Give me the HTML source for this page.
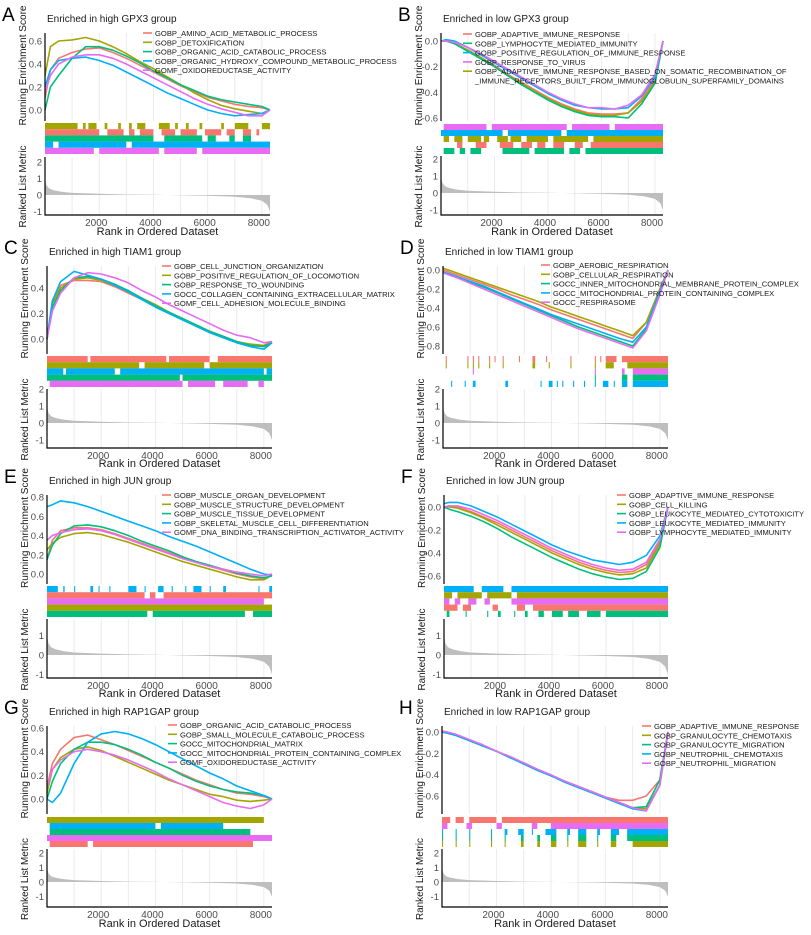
<!DOCTYPE html>
<html><head><meta charset="utf-8">
<style>
html,body{margin:0;padding:0;background:#fff;}
svg{display:block;font-family:"Liberation Sans",Arial,sans-serif;}
</style></head>
<body>
<svg id="fig" xmlns="http://www.w3.org/2000/svg" width="811" height="935" viewBox="0 0 811 935"></svg>
<script>
const ranks = [0,200,500,1000,1500,2000,2500,3000,3500,4000,4500,5000,5500,6000,6500,7000,7500,8000,8300];
const metricRanks = [0,50,150,300,600,1000,2000,3000,4000,5000,6000,7000,7600,8000,8200,8300];
const metricVals = [1.0,0.6,0.4,0.3,0.2,0.13,0.07,0.03,0.01,-0.02,-0.05,-0.1,-0.2,-0.35,-0.6,-1.0];
const xTickVals = [2000,4000,6000,8000];
const colors = ["#F8766D","#A3A500","#00BF7D","#00B0F6","#E76BF3"];

const namesA = ["GOBP_AMINO_ACID_METABOLIC_PROCESS","GOBP_DETOXIFICATION","GOBP_ORGANIC_ACID_CATABOLIC_PROCESS","GOBP_ORGANIC_HYDROXY_COMPOUND_METABOLIC_PROCESS","GOMF_OXIDOREDUCTASE_ACTIVITY"];
const esA = [
 [0.1,0.35,0.45,0.5,0.53,0.54,0.5,0.45,0.39,0.33,0.27,0.21,0.16,0.11,0.08,0.05,0.03,0.02,0],
 [0.3,0.55,0.6,0.61,0.63,0.6,0.55,0.49,0.42,0.36,0.29,0.22,0.15,0.09,0.04,0.01,-0.01,-0.03,0],
 [0.0,0.2,0.3,0.45,0.55,0.55,0.52,0.47,0.41,0.34,0.28,0.22,0.17,0.12,0.09,0.07,0.05,0.03,0],
 [0.2,0.35,0.43,0.45,0.46,0.43,0.39,0.33,0.27,0.21,0.15,0.1,0.05,0.0,-0.03,-0.05,-0.04,-0.03,0],
 [0.15,0.3,0.4,0.46,0.48,0.48,0.45,0.4,0.34,0.28,0.22,0.16,0.1,0.05,0.01,-0.02,-0.05,-0.05,0]];
const rugOrderA = [1,0,2,3,4];
const rugA = [
 [[0,1.2],[1.4,1.5],[1.6,1.9],[2.2,2.3],[2.7,2.8],[3.1,3.2],[3.4,3.7],[4.2,4.6],[4.8,4.9],[5.2,5.3],[5.7,5.8],[6.5,6.6],[7.0,7.5],[8.0,8.3]],
 [[0,2.0],[2.3,2.9],[3.1,3.3],[3.5,4.0],[4.3,4.8],[5.0,5.6],[5.9,6.5],[6.7,7.0],[7.3,7.6],[7.8,7.9]],
 [[0,4.0],[4.4,5.8],[6.0,6.3],[6.8,7.0],[7.3,7.6]],
 [[0,0.3],[0.5,3.0],[3.2,8.3]],
 [[0,1.8],[2.0,4.2],[4.4,5.6],[5.8,8.3]]];

const namesB = ["GOBP_ADAPTIVE_IMMUNE_RESPONSE","GOBP_LYMPHOCYTE_MEDIATED_IMMUNITY","GOBP_POSITIVE_REGULATION_OF_IMMUNE_RESPONSE","GOBP_RESPONSE_TO_VIRUS","GOBP_ADAPTIVE_IMMUNE_RESPONSE_BASED_ON_SOMATIC_RECOMBINATION_OF|_IMMUNE_RECEPTORS_BUILT_FROM_IMMUNOGLOBULIN_SUPERFAMILY_DOMAINS"];
const legendColorB = [0,2,3,4,1];
const esB = [
 [0,0,-0.02,-0.07,-0.13,-0.19,-0.26,-0.32,-0.38,-0.44,-0.49,-0.53,-0.56,-0.57,-0.57,-0.56,-0.45,-0.3,0],
 [0,0,-0.02,-0.07,-0.13,-0.2,-0.27,-0.33,-0.39,-0.45,-0.5,-0.54,-0.57,-0.58,-0.58,-0.56,-0.47,-0.32,0],
 [0,0,-0.02,-0.08,-0.14,-0.2,-0.27,-0.34,-0.4,-0.46,-0.51,-0.55,-0.58,-0.59,-0.59,-0.6,-0.49,-0.33,0],
 [0,0.01,0,-0.05,-0.11,-0.17,-0.23,-0.29,-0.35,-0.41,-0.46,-0.5,-0.52,-0.53,-0.53,-0.52,-0.43,-0.28,0],
 [0,0,-0.01,-0.05,-0.1,-0.16,-0.22,-0.28,-0.34,-0.4,-0.45,-0.49,-0.52,-0.52,-0.53,-0.5,-0.42,-0.26,0]];
const rugOrderB = [4,3,1,0,2];
const rugB = [
 [[0.1,1.7],[1.9,4.7],[4.9,6.3],[6.5,8.3]],
 [[0,2.3],[2.5,4.5],[4.7,8.3]],
 [[0.1,0.3],[0.5,0.8],[1.0,1.5],[1.6,1.8],[2.1,2.5],[2.6,3.0],[3.2,4.0],[4.2,5.5],[5.7,8.3]],
 [[0.6,0.8],[1.3,1.7],[2.2,2.7],[3.0,3.4],[3.6,3.9],[4.2,4.6],[5.0,5.3],[5.6,8.3]],
 [[0.1,0.5],[0.7,0.9],[1.1,1.5],[2.3,3.3],[3.5,4.6],[4.8,5.2],[5.4,8.3]]];

const namesC = ["GOBP_CELL_JUNCTION_ORGANIZATION","GOBP_POSITIVE_REGULATION_OF_LOCOMOTION","GOBP_RESPONSE_TO_WOUNDING","GOCC_COLLAGEN_CONTAINING_EXTRACELLULAR_MATRIX","GOMF_CELL_ADHESION_MOLECULE_BINDING"];
const esC = [
 [0,0.3,0.42,0.46,0.46,0.45,0.41,0.36,0.31,0.26,0.21,0.16,0.11,0.06,0.02,-0.02,-0.05,-0.06,-0.02],
 [0,0.28,0.4,0.47,0.48,0.46,0.42,0.37,0.32,0.27,0.21,0.16,0.11,0.06,0.02,-0.02,-0.04,-0.05,-0.02],
 [0,0.25,0.38,0.48,0.49,0.47,0.43,0.38,0.32,0.26,0.21,0.16,0.11,0.06,0.02,-0.02,-0.05,-0.06,-0.03],
 [0,0.3,0.45,0.53,0.5,0.47,0.42,0.37,0.31,0.25,0.2,0.15,0.1,0.05,0.01,-0.03,-0.06,-0.08,-0.03],
 [0,0.22,0.36,0.48,0.52,0.51,0.48,0.44,0.38,0.33,0.27,0.22,0.17,0.12,0.07,0.03,0.01,-0.03,-0.02]];
const rugOrderC = [0,1,3,2,4];
const rugC = [
 [[0,1.5],[1.6,4.4],[4.5,6.0],[6.3,8.3]],
 [[0,3.4],[3.6,5.8],[6.0,8.3]],
 [[0,0.6],[0.7,2.5],[2.7,8.0],[8.1,8.3]],
 [[0,4.9],[5.0,8.3]],
 [[0.1,5.0],[5.2,6.2],[6.5,7.4],[7.8,8.0]]];

const namesD = ["GOBP_AEROBIC_RESPIRATION","GOBP_CELLULAR_RESPIRATION","GOCC_INNER_MITOCHONDRIAL_MEMBRANE_PROTEIN_COMPLEX","GOCC_MITOCHONDRIAL_PROTEIN_CONTAINING_COMPLEX","GOCC_RESPIRASOME"];
const esD = [
 [0,-0.02,-0.05,-0.1,-0.15,-0.2,-0.26,-0.31,-0.36,-0.42,-0.47,-0.52,-0.57,-0.62,-0.67,-0.72,-0.55,-0.2,0],
 [0.02,0,-0.03,-0.08,-0.13,-0.18,-0.23,-0.28,-0.33,-0.39,-0.44,-0.49,-0.54,-0.59,-0.64,-0.69,-0.55,-0.2,0],
 [-0.02,-0.04,-0.07,-0.13,-0.18,-0.24,-0.3,-0.36,-0.42,-0.48,-0.54,-0.6,-0.65,-0.7,-0.75,-0.8,-0.62,-0.25,0],
 [-0.02,-0.04,-0.07,-0.12,-0.17,-0.23,-0.29,-0.35,-0.41,-0.47,-0.52,-0.57,-0.62,-0.67,-0.72,-0.76,-0.6,-0.22,0],
 [-0.03,-0.05,-0.08,-0.14,-0.2,-0.26,-0.32,-0.38,-0.44,-0.5,-0.56,-0.62,-0.67,-0.72,-0.77,-0.82,-0.64,-0.26,0]];
const rugOrderD = [0,1,4,2,3];
const rugD = [
 [[0.1,0.14],[0.9,0.94],[1.1,1.14],[1.3,1.34],[1.7,1.74],[1.9,1.94],[2.2,2.24],[2.8,2.84],[3.3,3.4],[3.8,3.84],[4.7,4.74],[5.6,5.64],[5.8,5.84],[6.0,6.4],[6.6,8.3]],
 [[0.1,0.14],[0.9,0.94],[1.1,1.14],[1.3,1.34],[1.7,1.74],[2.2,2.24],[3.3,3.4],[3.9,3.94],[4.7,4.74],[5.6,5.64],[6.0,6.3],[6.8,8.3]],
 [[1.1,1.14],[5.6,5.64],[6.6,6.7],[7.0,8.3]],
 [[5.6,5.64],[6.6,6.8],[7.0,8.3]],
 [[0.3,0.34],[0.8,0.84],[1.1,1.2],[2.3,2.4],[3.6,3.64],[3.9,4.04],[4.2,4.24],[4.4,4.44],[4.8,4.84],[5.2,5.24],[5.6,5.64],[5.9,6.1],[6.3,6.34],[6.6,6.8],[7.0,8.3]]];

const namesE = ["GOBP_MUSCLE_ORGAN_DEVELOPMENT","GOBP_MUSCLE_STRUCTURE_DEVELOPMENT","GOBP_MUSCLE_TISSUE_DEVELOPMENT","GOBP_SKELETAL_MUSCLE_CELL_DIFFERENTIATION","GOMF_DNA_BINDING_TRANSCRIPTION_ACTIVATOR_ACTIVITY"];
const esE = [
 [0.15,0.35,0.45,0.48,0.48,0.46,0.42,0.37,0.32,0.27,0.22,0.17,0.12,0.08,0.04,0.0,-0.03,-0.05,-0.01],
 [0.25,0.32,0.38,0.42,0.43,0.41,0.37,0.33,0.28,0.23,0.18,0.13,0.09,0.05,0.01,-0.03,-0.06,-0.06,-0.01],
 [0.15,0.3,0.42,0.5,0.51,0.49,0.45,0.4,0.34,0.29,0.24,0.18,0.13,0.09,0.05,0.01,-0.02,-0.04,-0.02],
 [0.7,0.72,0.76,0.74,0.7,0.65,0.6,0.55,0.5,0.45,0.39,0.34,0.29,0.23,0.17,0.11,0.05,0.0,-0.01],
 [0.35,0.4,0.43,0.46,0.47,0.45,0.41,0.36,0.31,0.26,0.21,0.16,0.12,0.08,0.05,0.02,0.0,-0.02,0.0]];
const rugOrderE = [3,0,4,1,2];
const rugE = [
 [[0,0.4],[0.6,0.65],[1.0,1.04],[1.6,1.7],[1.9,1.94],[2.3,2.34],[3.0,3.3],[3.6,3.64],[4.1,4.3],[4.6,4.64],[5.1,5.14],[5.4,5.7],[6.0,6.04],[6.5,6.6],[7.8,7.84],[8.2,8.3]],
 [[0,3.6],[3.8,4.0],[4.3,8.3]],
 [[0,8.0]],
 [[0,8.3]],
 [[0,3.7],[3.9,7.3],[7.6,8.3]]];

const namesF = ["GOBP_ADAPTIVE_IMMUNE_RESPONSE","GOBP_CELL_KILLING","GOBP_LEUKOCYTE_MEDIATED_CYTOTOXICITY","GOBP_LEUKOCYTE_MEDIATED_IMMUNITY","GOBP_LYMPHOCYTE_MEDIATED_IMMUNITY"];
const esF = [
 [0,0.01,0,-0.04,-0.09,-0.14,-0.2,-0.26,-0.32,-0.38,-0.43,-0.48,-0.52,-0.55,-0.57,-0.56,-0.5,-0.3,0],
 [0,0,-0.01,-0.05,-0.1,-0.16,-0.22,-0.28,-0.34,-0.4,-0.45,-0.5,-0.54,-0.57,-0.59,-0.58,-0.53,-0.32,0],
 [0,-0.02,-0.04,-0.08,-0.13,-0.19,-0.26,-0.32,-0.38,-0.44,-0.49,-0.54,-0.58,-0.61,-0.63,-0.62,-0.56,-0.35,0],
 [0.03,0.04,0.04,0.01,-0.04,-0.09,-0.15,-0.21,-0.27,-0.33,-0.38,-0.42,-0.46,-0.48,-0.5,-0.48,-0.42,-0.25,0],
 [0,0.01,0.01,-0.02,-0.07,-0.12,-0.18,-0.24,-0.3,-0.36,-0.41,-0.46,-0.5,-0.53,-0.55,-0.54,-0.48,-0.28,0]];
const rugOrderF = [3,1,4,0,2];
const rugF = [
 [[0,1.1],[1.4,2.2],[2.5,8.3]],
 [[0,0.3],[0.5,1.4],[1.6,2.5],[2.7,8.3]],
 [[0,0.2],[0.4,0.6],[0.9,1.2],[1.5,1.7],[2.5,8.3]],
 [[0,0.5],[0.7,1.0],[1.8,2.0],[2.7,3.0],[3.3,8.3]],
 [[0.1,0.2],[0.8,0.84],[1.6,1.64],[2.0,2.1],[2.6,2.64],[3.0,3.1],[3.5,3.7],[4.0,4.4],[4.6,5.0],[5.3,5.8],[6.0,8.3]]];

const namesG = ["GOBP_ORGANIC_ACID_CATABOLIC_PROCESS","GOBP_SMALL_MOLECULE_CATABOLIC_PROCESS","GOCC_MITOCHONDRIAL_MATRIX","GOCC_MITOCHONDRIAL_PROTEIN_CONTAINING_COMPLEX","GOMF_OXIDOREDUCTASE_ACTIVITY"];
const esG = [
 [0.1,0.3,0.42,0.52,0.54,0.5,0.46,0.41,0.36,0.31,0.26,0.21,0.16,0.12,0.08,0.05,0.04,0.02,0],
 [0.05,0.25,0.35,0.42,0.44,0.41,0.36,0.31,0.26,0.21,0.16,0.12,0.08,0.04,0.02,-0.01,-0.02,-0.01,0],
 [0,0.15,0.3,0.42,0.48,0.48,0.46,0.42,0.37,0.31,0.26,0.2,0.15,0.11,0.08,0.06,0.05,0.03,0],
 [0,-0.03,0.05,0.3,0.48,0.55,0.57,0.55,0.51,0.46,0.4,0.34,0.28,0.22,0.17,0.11,0.07,0.03,0],
 [0.1,0.25,0.33,0.4,0.42,0.4,0.37,0.33,0.28,0.23,0.17,0.12,0.07,0.02,-0.03,-0.06,-0.08,-0.05,0]];
const rugOrderG = [1,3,2,4,0];
const rugG = [
 [[0,8.0]],
 [[0.1,4.0],[4.2,6.5]],
 [[0.1,7.5]],
 [[0,8.3]],
 [[0.1,1.5],[1.7,7.6]]];

const namesH = ["GOBP_ADAPTIVE_IMMUNE_RESPONSE","GOBP_GRANULOCYTE_CHEMOTAXIS","GOBP_GRANULOCYTE_MIGRATION","GOBP_NEUTROPHIL_CHEMOTAXIS","GOBP_NEUTROPHIL_MIGRATION"];
const esH = [
 [0,-0.01,-0.03,-0.08,-0.13,-0.18,-0.24,-0.29,-0.35,-0.41,-0.46,-0.51,-0.56,-0.61,-0.64,-0.64,-0.6,-0.45,0],
 [0,-0.01,-0.03,-0.08,-0.13,-0.18,-0.24,-0.29,-0.35,-0.41,-0.46,-0.51,-0.56,-0.61,-0.66,-0.71,-0.72,-0.5,0],
 [0,-0.01,-0.03,-0.08,-0.13,-0.18,-0.24,-0.29,-0.35,-0.41,-0.46,-0.51,-0.56,-0.61,-0.66,-0.71,-0.7,-0.45,0],
 [0,-0.01,-0.03,-0.08,-0.13,-0.18,-0.24,-0.3,-0.36,-0.41,-0.47,-0.52,-0.57,-0.62,-0.67,-0.72,-0.74,-0.5,0],
 [0.01,0,-0.02,-0.07,-0.12,-0.18,-0.23,-0.29,-0.35,-0.4,-0.46,-0.51,-0.56,-0.61,-0.66,-0.71,-0.74,-0.5,0]];
const rugOrderH = [0,4,3,2,1];
const rugH = [
 [[0,0.3],[0.5,0.8],[1.0,2.0],[2.2,8.3]],
 [[0,0.2],[0.9,1.1],[2.0,2.2],[3.3,3.5],[4.0,8.3]],
 [[0,0.04],[0.5,0.54],[1.0,1.04],[1.8,1.84],[2.3,2.4],[2.8,3.0],[3.3,3.34],[3.8,4.2],[4.6,4.7],[5.0,5.3],[5.7,5.8],[6.2,6.5],[6.8,8.3]],
 [[0,0.04],[0.5,0.54],[1.0,1.04],[1.8,1.84],[2.3,2.34],[2.9,3.0],[3.5,3.6],[4.0,4.2],[4.6,4.64],[5.0,5.3],[5.7,5.74],[6.2,6.4],[6.8,8.3]],
 [[0,0.04],[0.5,0.54],[1.0,1.04],[1.8,1.84],[2.3,2.34],[2.9,3.0],[3.5,3.6],[4.0,4.2],[4.6,4.64],[5.0,5.3],[5.7,5.74],[6.2,6.4],[7.0,8.3]]];

const NS = "http://www.w3.org/2000/svg";
const svg = document.getElementById('fig');
function mk(tag, attrs, parent){
  const e = document.createElementNS(NS, tag);
  for (const k in attrs) e.setAttribute(k, attrs[k]);
  (parent||svg).appendChild(e);
  return e;
}

const panels = [
 {id:'a',label:'A',title:'Enriched in high GPX3 group',L:45,R:270,tY:22,esTop:33,esBot:121,c0:[0,110],c1:[0.6,41],ticks:[0,0.2,0.4,0.6],rT:123,rB:154,m0:195,m1:178.5,mTop:157,mTicks:[-1,0,1,2],ax:215,tl:226,xl:235,lgX:143,lgY:33,names:namesA,es:esA,ro:rugOrderA,rug:rugA},
 {id:'b',label:'B',title:'Enriched in low GPX3 group',L:441,R:663,tY:22,esTop:33,esBot:121,c0:[0,41],c1:[-0.6,118],ticks:[0,-0.2,-0.4,-0.6],rT:124,rB:154,m0:193,m1:176,mTop:156,mTicks:[-1,0,1,2],ax:215,tl:226,xl:235,lgX:463,lgY:34,names:namesB,es:esB,ro:rugOrderB,rug:rugB,lc:legendColorB},
 {id:'c',label:'C',title:'Enriched in high TIAM1 group',L:47,R:272,tY:255,esTop:266,esBot:354,c0:[0,339],c1:[0.4,288],ticks:[0,0.2,0.4],rT:356,rB:387,m0:423,m1:406,mTop:389,mTicks:[-1,0,1,2],ax:448,tl:459,xl:467,lgX:162,lgY:266,names:namesC,es:esC,ro:rugOrderC,rug:rugC},
 {id:'d',label:'D',title:'Enriched in low TIAM1 group',L:443,R:668,tY:255,esTop:266,esBot:354,c0:[0,270],c1:[-0.8,346],ticks:[0,-0.2,-0.4,-0.6,-0.8],rT:356,rB:387,m0:423,m1:406,mTop:389,mTicks:[-1,0,1,2],ax:448,tl:459,xl:467,lgX:541,lgY:265,names:namesD,es:esD,ro:rugOrderD,rug:rugD},
 {id:'e',label:'E',title:'Enriched in high JUN group',L:47,R:272,tY:484,esTop:495,esBot:584,c0:[0,574],c1:[0.8,497],ticks:[0,0.2,0.4,0.6,0.8],rT:586,rB:617,m0:655,m1:635.5,mTop:619,mTicks:[-1,0,1],ax:678,tl:689,xl:697,lgX:162,lgY:495,names:namesE,es:esE,ro:rugOrderE,rug:rugE},
 {id:'f',label:'F',title:'Enriched in low JUN group',L:444,R:668,tY:484,esTop:495,esBot:584,c0:[0,507],c1:[-0.6,576],ticks:[0,-0.2,-0.4,-0.6],rT:586,rB:617,m0:655,m1:635.5,mTop:619,mTicks:[-1,0,1],ax:678,tl:689,xl:697,lgX:617,lgY:495,names:namesF,es:esF,ro:rugOrderF,rug:rugF},
 {id:'g',label:'G',title:'Enriched in high RAP1GAP group',L:47,R:272,tY:715,esTop:726,esBot:814,c0:[0,799],c1:[0.6,728],ticks:[0,0.2,0.4,0.6],rT:817,rB:847,m0:882,m1:867.5,mTop:849,mTicks:[-1,0,1,2],ax:907,tl:918,xl:927,lgX:168,lgY:725,names:namesG,es:esG,ro:rugOrderG,rug:rugG},
 {id:'h',label:'H',title:'Enriched in low RAP1GAP group',L:442,R:668,tY:715,esTop:726,esBot:814,c0:[0,732],c1:[-0.6,796],ticks:[0,-0.2,-0.4,-0.6],rT:817,rB:847,m0:882,m1:867.5,mTop:849,mTicks:[-1,0,1,2],ax:907,tl:918,xl:927,lgX:642,lgY:726,names:namesH,es:esH,ro:rugOrderH,rug:rugH}
];

const XMAX = 8300;
panels.forEach(p=>{
  const g = mk('g',{});
  
  
  const xs = r => p.L + r / XMAX * (p.R - p.L);
  const ys = v => p.c0[1] + (v - p.c0[0]) / (p.c1[0] - p.c0[0]) * (p.c1[1] - p.c0[1]);
  const ym = v => p.m0 + v * (p.m1 - p.m0);

  for (let r = 1000; r <= 8000; r += 1000){
    const l1 = mk('line',{x1:xs(r),x2:xs(r),y1:p.esTop,y2:p.esBot,stroke:'#ebebeb','stroke-width':1},g);
    
    
    const l2 = mk('line',{x1:xs(r),x2:xs(r),y1:p.mTop,y2:p.ax,stroke:'#ebebeb','stroke-width':1},g);
    
    
  }

  const lab = mk('text',{x:p.L-43,y:p.tY-1,'font-size':19,fill:'#000'},g);
  lab.textContent = p.label;
  
  
  const tt = mk('text',{x:p.L+2,y:p.tY,'font-size':10,fill:'#1a1a1a'},g);
  tt.textContent = p.title;
  
  

  p.es.forEach((ser, i)=>{
    const pts = ser.map((v,k)=> xs(ranks[k]).toFixed(1)+','+ys(v).toFixed(1)).join(' ');
    const pl = mk('polyline',{points:pts,fill:'none',stroke:colors[i],'stroke-width':1.6,'stroke-linejoin':'round'},g);
    
    
  });

  const ya = mk('line',{x1:p.L,x2:p.L,y1:p.esTop,y2:p.esBot,stroke:'#000','stroke-width':1.2},g);
  
  
  p.ticks.forEach(t=>{
    const tx = mk('text',{x:p.L-3,y:ys(t)+3.5,'font-size':9.5,fill:'#4d4d4d','text-anchor':'end'},g);
    tx.textContent = t.toFixed(1);
    
    
  });
  const esMid = (p.tY - 18 + p.esBot + 6) / 2;
  const yt = mk('text',{x:0,y:0,'font-size':10.5,fill:'#1a1a1a','text-anchor':'middle',textLength:120,lengthAdjust:'spacingAndGlyphs',transform:`translate(${p.L-19},${esMid}) rotate(-90)`},g);
  yt.textContent = 'Running Enrichment Score';
  
  

  const rh = (p.rB - p.rT) / 5;
  p.rug.forEach((segs, row)=>{
    const col = colors[p.ro[row]];
    segs.forEach(s=>{
      const rc = mk('rect',{x:xs(s[0]*1000),y:p.rT+row*rh,width:Math.max(1,xs(s[1]*1000)-xs(s[0]*1000)),height:rh,fill:col},g);
      
      
    });
  });

  let mp = xs(0)+','+ym(0)+' ';
  mp += metricRanks.map((r,k)=> xs(r).toFixed(1)+','+ym(metricVals[k]).toFixed(1)).join(' ');
  mp += ' '+xs(XMAX)+','+ym(0);
  const ar = mk('polygon',{points:mp,fill:'#bebebe',stroke:'none'},g);
  
  
  const ma = mk('path',{d:`M${p.L},${p.mTop} V${p.ax} H${p.R}`,fill:'none',stroke:'#000','stroke-width':1.2},g);
  
  
  p.mTicks.forEach(t=>{
    const tx = mk('text',{x:p.L-3,y:ym(t)+3.5,'font-size':9.5,fill:'#4d4d4d','text-anchor':'end'},g);
    tx.textContent = String(t);
    
    
  });
  const mt = mk('text',{x:0,y:0,'font-size':10.5,fill:'#1a1a1a','text-anchor':'middle',textLength:82,lengthAdjust:'spacingAndGlyphs',transform:`translate(${p.L-19},${(p.rB+p.ax)/2+2}) rotate(-90)`},g);
  mt.textContent = 'Ranked List Metric';
  
  
  xTickVals.forEach(t=>{
    const tx = mk('text',{x:xs(t)-3,y:p.tl,'font-size':10,fill:'#4d4d4d','text-anchor':'middle'},g);
    tx.textContent = String(t);
    
    
  });
  const xt = mk('text',{x:(p.L+p.R)/2,y:p.xl,'font-size':11,fill:'#1a1a1a','text-anchor':'middle'},g);
  xt.textContent = 'Rank in Ordered Dataset';
  
  

  let yy = p.lgY;
  p.names.forEach((nm, i)=>{
    const ci = p.lc ? p.lc[i] : i;
    const lg = mk('g',{},g);
    
    
    mk('line',{x1:p.lgX,x2:p.lgX+9,y1:yy,y2:yy,stroke:colors[ci],'stroke-width':1.6},lg);
    nm.split('|').forEach((part, j)=>{
      const tx = mk('text',{x:p.lgX+12,y:yy+3,'font-size':7.6,fill:'#1a1a1a'},lg);
      tx.textContent = part;
      if (j===0 && nm.includes('|')) yy += 9.3;
    });
    yy += 9.3;
  });
});
</script>
</body></html>
